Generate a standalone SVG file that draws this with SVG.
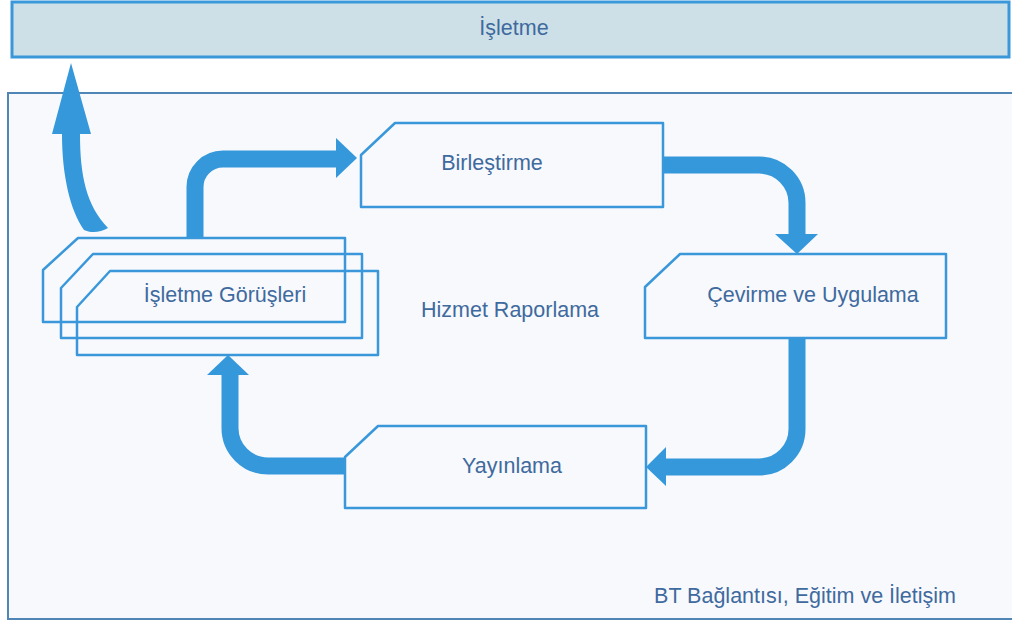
<svg xmlns="http://www.w3.org/2000/svg" width="1012" height="626" viewBox="0 0 1012 626">
  <style>
    .lbl { font-family: "Liberation Sans", Arial, sans-serif; font-size: 21.5px; fill: #3f6a9e; text-anchor: middle; }
    .box { fill: none; stroke: #3a98da; stroke-width: 2.5; stroke-linejoin: round; }
    .flow { fill: none; stroke: #3498db; stroke-width: 17; }
    .head { fill: #3498db; }
  </style>

  <rect width="1012" height="626" fill="#ffffff"/>

  <!-- top band -->
  <g id="isletme">
    <rect x="12" y="2" width="997" height="55" fill="#cde0e8" stroke="#3a98da" stroke-width="3"/>
    <text class="lbl" x="514" y="35">İşletme</text>
  </g>

  <!-- outer service-reporting container -->
  <g id="bt-baglantisi">
    <rect x="8" y="93" width="1010" height="526" fill="#f7f9fd" stroke="#4f86b5" stroke-width="2"/>
    <text class="lbl" x="805" y="603">BT Bağlantısı, Eğitim ve İletişim</text>
  </g>

  <g id="hizmet-raporlama">
    <text class="lbl" x="510" y="317">Hizmet Raporlama</text>
  </g>

  <!-- connectors -->
  <g id="connectors">
    <!-- Görüşleri -> Birleştirme -->
    <path class="flow" d="M195,238 V187 A28,28 0 0 1 223,159 H337"/>
    <polygon class="head" points="336,138 357,158 336,178"/>
    <!-- Birleştirme -> Çevirme -->
    <path class="flow" d="M663,165 H759 A38,38 0 0 1 797,203 V236"/>
    <polygon class="head" points="775,234 818,234 797,254"/>
    <!-- Çevirme -> Yayınlama -->
    <path class="flow" d="M797,338 V429 A38,38 0 0 1 759,467 H664"/>
    <polygon class="head" points="666,447 646,467 666,486"/>
    <!-- Yayınlama -> Görüşleri -->
    <path class="flow" d="M345,466 H268 A38,38 0 0 1 230,428 V373"/>
    <polygon class="head" points="207,375 228,355 249,375"/>
    <!-- Görüşleri -> İşletme (curved) -->
    <path class="head" d="M52,134 L71,63 L91,134 L80,134 C80,175 86,205 108,228 C100,233 90,233 84,230 C70,210 62,175 62,134 Z"/>
  </g>

  <g id="birlestirme">
    <polygon class="box" points="395,123 663,123 663,207 361,207 361,155"/>
    <text class="lbl" x="492" y="170">Birleştirme</text>
  </g>

  <g id="cevirme">
    <polygon class="box" points="680,254 946,254 946,338 645,338 645,287"/>
    <text class="lbl" x="813" y="302">Çevirme ve Uygulama</text>
  </g>

  <g id="yayinlama">
    <polygon class="box" points="378,426 646,426 646,508 345,508 345,457"/>
    <text class="lbl" x="512" y="473">Yayınlama</text>
  </g>

  <g id="isletme-gorusleri">
    <polygon class="box" points="78,238 345,238 345,322 43,322 43,270"/>
    <polygon class="box" points="93,254 362,254 362,338 61,338 61,288"/>
    <polygon class="box" points="110,271 378,271 378,355 77,355 77,307"/>
    <text class="lbl" x="225" y="302">İşletme Görüşleri</text>
  </g>
</svg>
